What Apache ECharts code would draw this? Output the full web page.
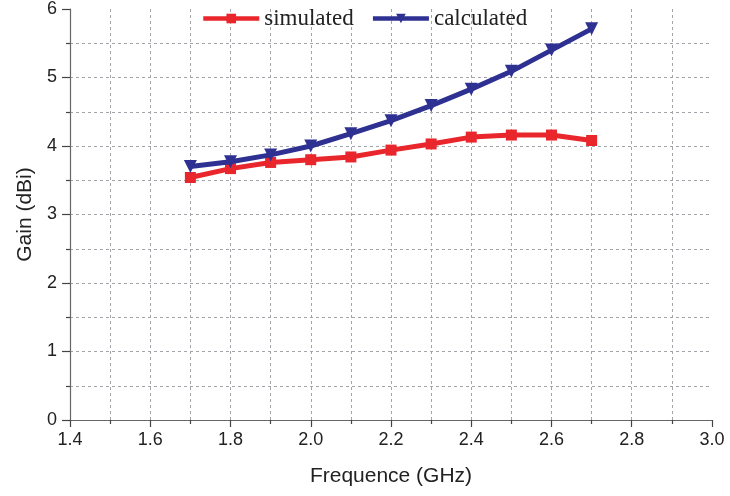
<!DOCTYPE html>
<html>
<head>
<meta charset="utf-8">
<script src="https://cdn.jsdelivr.net/npm/echarts@6/dist/echarts.min.js"></script>
<style>
  html, body { margin: 0; padding: 0; background: #fff; }
  #chart { width: 730px; height: 496px; }
</style>
</head>
<body>
<div id="chart"></div>
<script>
// Frequency points (GHz)
const frequencies = [1.7, 1.8, 1.9, 2.0, 2.1, 2.2, 2.3, 2.4, 2.5, 2.6, 2.7];
// Gain values (dBi)
const simulatedGain = [3.54, 3.67, 3.76, 3.80, 3.84, 3.94, 4.03, 4.13, 4.16, 4.16, 4.08];
const calculatedGain = [3.70, 3.77, 3.87, 4.00, 4.18, 4.37, 4.59, 4.83, 5.09, 5.40, 5.71];

const seriesNames = ['simulated', 'calculated'];
const seriesColors = ['#e8262b', '#2e3192'];

const pairs = (xs, ys) => xs.map((x, i) => [x, ys[i]]);

const sansFamily = 'Liberation Sans, Arial, Helvetica, sans-serif';
const gridDash = { color: '#a2a6ab', width: 1, type: [3, 3] };
const tickLabelFont = { fontFamily: sansFamily, fontSize: 18, color: '#222' };
const axisNameFont = { fontFamily: sansFamily, fontSize: 21, color: '#222' };
const axisLineStyle = { color: '#666', width: 1.2 };
const tickLineStyle = { color: '#444', width: 1.2 };

const chart = echarts.init(document.getElementById('chart'), null, { renderer: 'canvas' });
chart.setOption({
  animation: false,
  backgroundColor: '#fff',
  grid: { left: 70, right: 18, top: 8, bottom: 76 },
  legend: {
    top: 2,
    left: 196,
    itemGap: 17,
    itemWidth: 56,
    itemHeight: 12,
    lineStyle: { width: 4.5 },
    textStyle: { fontFamily: 'Liberation Serif, Times New Roman, serif', fontSize: 23, color: '#222' },
    data: seriesNames
  },
  xAxis: {
    type: 'value',
    min: 1.4,
    max: 3.0,
    interval: 0.2,
    name: 'Frequence (GHz)',
    nameLocation: 'middle',
    nameGap: 46,
    nameTextStyle: axisNameFont,
    axisLine: { show: true, lineStyle: axisLineStyle },
    axisTick: { show: true, length: 7, lineStyle: tickLineStyle },
    minorTick: { show: true, splitNumber: 2, length: 4, lineStyle: tickLineStyle },
    axisLabel: Object.assign({ margin: 11, formatter: v => v.toFixed(1) }, tickLabelFont),
    splitLine: { show: true, showMinLine: false, showMaxLine: false, lineStyle: gridDash },
    minorSplitLine: { show: true, lineStyle: gridDash }
  },
  yAxis: {
    type: 'value',
    min: 0,
    max: 6,
    interval: 1,
    name: 'Gain (dBi)',
    nameLocation: 'middle',
    nameGap: 31,
    nameTextStyle: axisNameFont,
    axisLine: { show: true, lineStyle: axisLineStyle },
    axisTick: { show: true, length: 8, lineStyle: tickLineStyle },
    minorTick: { show: true, splitNumber: 2, length: 4, lineStyle: tickLineStyle },
    axisLabel: Object.assign({ margin: 13 }, tickLabelFont),
    splitLine: { show: true, showMinLine: false, showMaxLine: false, lineStyle: gridDash },
    minorSplitLine: { show: true, lineStyle: gridDash }
  },
  series: [
    {
      name: seriesNames[0],
      type: 'line',
      data: pairs(frequencies, simulatedGain),
      symbol: 'rect',
      symbolSize: 11,
      lineStyle: { color: seriesColors[0], width: 5 },
      itemStyle: { color: seriesColors[0] },
      z: 3
    },
    {
      name: seriesNames[1],
      type: 'line',
      data: pairs(frequencies, calculatedGain),
      symbol: 'triangle',
      symbolRotate: 180,
      symbolSize: 13,
      lineStyle: { color: seriesColors[1], width: 5 },
      itemStyle: { color: seriesColors[1] },
      z: 4
    }
  ]
});
</script>
</body>
</html>
